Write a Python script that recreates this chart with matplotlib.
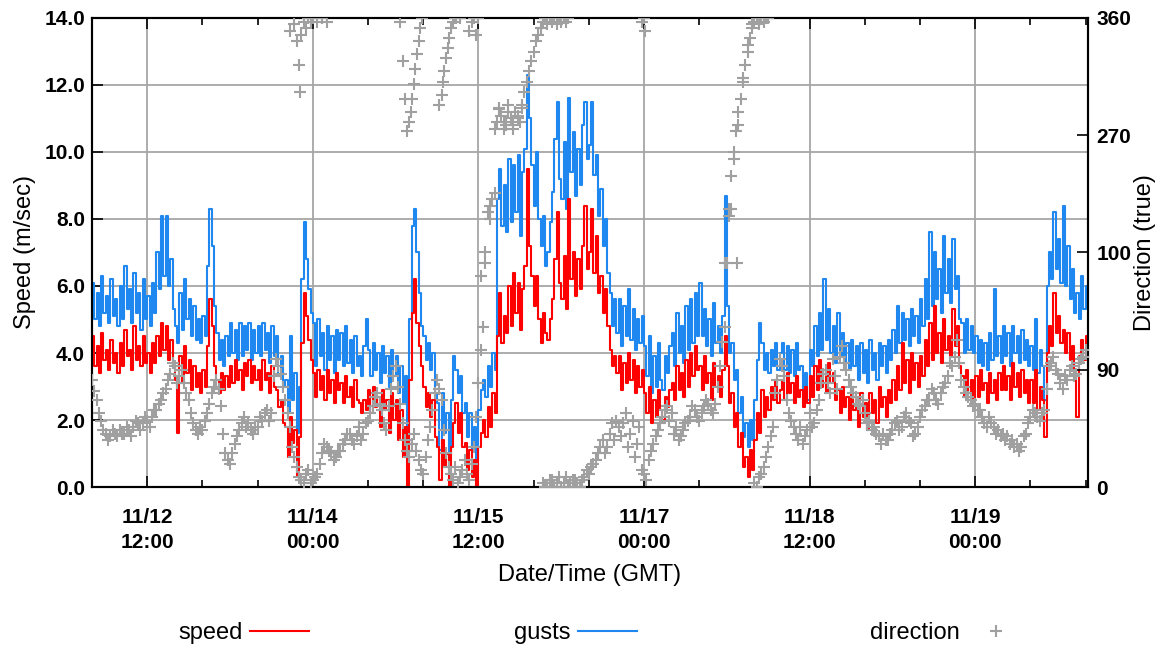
import numpy as np
import matplotlib
matplotlib.use("Agg")
import matplotlib.pyplot as plt
from matplotlib.ticker import MultipleLocator

plt.rcParams['font.family'] = ['Liberation Sans', 'DejaVu Sans']

# ---------------- data ----------------
SAMPLE_HOURS = 0.5  # speed / gust sampling interval (hours from start)

speed = [
    4.5, 3.6, 4.2, 3.4, 4.6, 3.8, 4.1, 3.5, 4.4, 3.7, 4.0, 3.4,
    4.3, 3.6, 4.7, 3.9, 4.1, 3.5, 4.8, 3.8, 4.2, 3.6, 4.5, 3.7,
    4.0, 3.4, 4.3, 3.7, 4.5, 3.9, 4.9, 4.1, 4.8, 3.8, 4.4, 3.6,
    3.2, 1.6, 3.9, 3.1, 4.2, 3.4, 3.8, 2.9, 3.6, 3.0, 3.4, 2.8,
    3.5, 3.0, 4.2, 5.6, 4.8, 3.6, 3.2, 2.8, 3.4, 2.9, 3.3, 3.0,
    3.6, 3.1, 3.8, 3.2, 3.5, 2.9, 3.7, 3.3, 3.8, 3.1, 3.6, 3.2,
    3.5, 2.9, 3.8, 3.2, 3.4, 2.8, 3.6, 3.0, 2.9, 2.4, 2.6, 1.9,
    1.8, 0.9, 2.1, 1.3, 1.7, 0.3, 1.5, 4.3, 5.8, 5.1, 4.4, 3.8,
    3.4, 2.7, 3.5, 2.9, 3.3, 2.6, 3.5, 2.8, 3.2, 2.5, 3.4, 2.9,
    3.1, 2.5, 3.3, 2.7, 3.0, 2.4, 3.2, 2.6, 2.5, 2.2, 2.6, 2.3,
    2.9, 2.2, 3.0, 2.4, 2.7, 1.8, 2.9, 2.3, 2.6, 1.6, 2.8, 2.0,
    2.6, 1.4, 2.3, 0.9, 1.8, 0.0, 3.2, 5.2, 6.2, 4.9, 4.2, 3.6,
    3.0, 2.4, 2.8, 2.1, 2.6, 1.5, 1.2, 0.2, 1.4, 0.6, 1.0, 0.0,
    1.2, 1.9, 2.5, 1.6, 2.2, 1.2, 1.3, 0.5, 1.1, 0.3, 0.8, 0.0,
    1.2, 1.6, 2.0, 1.5, 2.4, 1.8, 2.8, 2.2, 4.5, 5.8, 4.3, 5.1,
    4.6, 6.0, 4.8, 6.4, 5.2, 6.1, 4.7, 5.9, 6.6, 9.5, 7.2, 6.3,
    5.4, 6.3, 5.0, 4.3, 5.2, 4.6, 4.4, 5.0, 5.6, 6.8, 8.2, 6.1,
    5.6, 6.9, 5.3, 8.6, 6.2, 7.0, 5.7, 6.8, 5.9, 7.2, 8.4, 6.5,
    7.0, 8.3, 6.4, 7.5, 5.8, 6.3, 5.2, 5.9, 4.8, 4.1, 3.6, 3.9,
    3.4, 3.9, 2.9, 3.7, 3.1, 4.0, 3.2, 3.8, 2.8, 3.6, 3.0, 3.5,
    2.8, 2.2, 3.0, 1.9, 2.6, 2.1, 2.9, 2.3, 2.0, 2.7, 2.4, 2.9,
    3.1, 2.6, 3.6, 2.9, 3.4, 2.7, 3.8, 3.0, 4.0, 3.3, 4.2, 3.5,
    3.6, 2.9, 3.9, 3.1, 3.4, 2.6, 3.7, 3.0, 3.3, 2.7, 3.5, 4.5,
    3.6, 2.5, 2.8, 1.8, 2.2, 1.2, 1.6, 0.6, 0.9, 0.3, 1.1, 0.5,
    1.4, 2.2, 1.6, 2.9, 2.1, 2.7, 2.3, 3.0, 2.6, 3.2, 2.5, 2.9,
    3.2, 2.6, 3.4, 2.8, 3.1, 2.5, 3.3, 2.7, 2.9, 2.4, 3.0, 2.5,
    3.3, 2.7, 3.6, 2.9, 3.8, 3.0, 3.5, 2.8, 3.7, 3.1, 3.4, 2.6,
    2.9, 2.2, 3.0, 2.4, 2.7, 2.0, 2.9, 2.3, 2.6, 1.8, 2.8, 2.1,
    2.5, 1.7, 2.8, 2.2, 2.6, 1.9, 3.0, 2.4, 2.7, 2.1, 2.9, 2.5,
    3.2, 2.6, 3.6, 2.9, 4.3, 3.1, 3.8, 2.8, 4.0, 3.2, 3.7, 3.0,
    3.9, 3.3, 4.4, 3.6, 4.9, 3.8, 5.4, 4.0, 4.6, 3.7, 5.0, 4.1,
    4.5, 3.9, 5.3, 4.2, 4.8, 3.6, 3.3, 2.7, 3.5, 2.8, 3.2, 2.6,
    3.3, 2.7, 3.5, 2.9, 3.1, 2.5, 3.4, 2.8, 3.2, 2.6, 3.4, 2.9,
    3.6, 2.9, 3.3, 2.6, 3.7, 3.0, 3.4, 2.7, 3.5, 2.8, 3.2, 2.5,
    3.2, 2.5, 3.5, 2.3, 3.0, 2.6, 1.5, 4.0, 4.8, 4.2, 5.8, 4.6,
    5.1, 4.3, 4.7, 4.0, 4.6, 3.8, 4.2, 3.5, 2.1, 3.9, 4.4, 3.8,
    4.5, 4.1,
]

gusts = [
    6.1, 5.0, 5.8, 4.8, 6.3, 5.2, 5.7, 4.9, 6.2, 5.1, 5.6, 4.8,
    6.0, 5.0, 6.6, 5.3, 5.9, 4.9, 6.4, 5.2, 5.8, 4.7, 6.2, 5.0,
    5.7, 4.8, 6.1, 5.2, 7.0, 5.9, 8.1, 6.3, 8.1, 6.0, 6.8, 5.3,
    4.8, 4.3, 5.8, 4.7, 6.2, 5.0, 5.6, 4.5, 5.4, 4.4, 5.0, 4.3,
    5.1, 4.5, 6.6, 8.3, 7.2, 5.4, 4.6, 3.8, 4.4, 3.6, 4.5, 3.9,
    4.9, 4.0, 4.7, 3.8, 4.9, 3.9, 4.8, 4.1, 4.9, 3.8, 4.7, 4.0,
    4.8, 3.9, 4.9, 4.1, 4.6, 3.7, 4.8, 3.9, 4.5, 3.3, 3.9, 3.0,
    3.2, 2.2, 4.5, 2.6, 3.4, 1.6, 3.0, 6.2, 7.9, 6.8, 5.9, 5.2,
    4.9, 3.6, 5.0, 3.9, 4.6, 3.5, 4.8, 3.8, 4.5, 3.4, 4.7, 3.8,
    4.6, 3.6, 4.8, 3.7, 4.4, 3.4, 4.5, 3.6, 3.9, 3.3, 4.2, 5.0,
    4.1, 3.3, 4.3, 3.5, 4.0, 3.1, 4.2, 3.4, 3.9, 3.0, 4.1, 3.3,
    3.9, 2.8, 3.6, 2.5, 3.3, 1.2, 5.0, 7.8, 8.3, 7.0, 5.8, 4.8,
    4.5, 3.8, 4.3, 3.5, 4.0, 2.8, 2.5, 1.1, 2.8, 1.6, 2.2, 1.0,
    2.6, 3.9, 3.5, 2.8, 3.3, 2.2, 2.5, 1.5, 2.2, 1.1, 1.8, 0.8,
    2.3, 2.9, 3.2, 2.7, 3.6, 3.0, 4.0, 3.5, 8.6, 9.5, 7.8, 9.0,
    7.6, 9.8, 7.9, 9.6, 8.2, 9.9, 7.5, 9.4, 10.1, 12.3, 11.0, 9.6,
    8.4, 10.0, 8.0, 7.2, 8.1, 6.6, 7.0, 7.9, 8.8, 10.4, 11.5, 9.2,
    8.6, 10.3, 8.3, 11.6, 9.4, 10.6, 8.7, 10.1, 9.0, 10.8, 11.5, 9.8,
    10.2, 11.5, 9.3, 9.9, 8.1, 8.9, 7.2, 8.0, 6.4, 5.8, 4.8, 5.6,
    4.6, 5.6, 4.2, 5.4, 4.5, 5.9, 4.4, 5.3, 4.1, 5.0, 4.3, 5.1,
    4.2, 3.3, 4.5, 2.8, 3.9, 3.0, 4.3, 3.2, 2.9, 3.9, 3.4, 4.2,
    4.6, 3.6, 5.2, 4.0, 4.8, 3.7, 5.4, 4.1, 5.6, 4.3, 5.8, 4.5,
    6.1, 4.5, 5.3, 4.2, 5.0, 3.9, 5.5, 4.3, 4.8, 4.0, 5.1, 8.7,
    5.4, 4.0, 4.3, 3.2, 3.5, 2.2, 2.7, 1.5, 1.9, 1.2, 2.0, 1.4,
    2.6, 3.8, 4.9, 4.3, 3.5, 4.0, 3.4, 4.1, 3.6, 4.3, 3.5, 4.0,
    4.3, 3.5, 4.2, 3.4, 4.1, 3.3, 4.3, 3.5, 3.6, 2.7, 3.4, 2.6,
    4.1, 3.6, 4.8, 3.9, 5.2, 4.1, 6.2, 4.4, 5.3, 4.0, 4.8, 3.7,
    5.2, 3.9, 4.6, 3.7, 4.3, 3.5, 4.4, 3.6, 4.2, 3.2, 4.3, 3.4,
    4.1, 3.1, 4.4, 3.5, 4.0, 3.2, 4.3, 3.6, 4.2, 3.4, 4.4, 3.8,
    4.7, 4.0, 5.4, 4.3, 5.2, 4.4, 5.0, 4.2, 5.3, 4.5, 5.1, 4.3,
    5.6, 4.8, 6.2, 5.0, 7.6, 5.4, 7.0, 5.6, 6.5, 5.2, 7.5, 5.8,
    6.8, 5.5, 7.4, 5.9, 6.3, 5.0, 4.9, 4.0, 5.0, 4.1, 4.8, 4.0,
    4.5, 3.7, 4.4, 3.6, 4.3, 3.5, 4.6, 3.8, 5.9, 3.9, 4.5, 3.7,
    4.8, 3.9, 4.6, 3.6, 4.8, 4.0, 4.5, 3.7, 4.7, 3.8, 4.4, 3.6,
    4.2, 3.5, 5.0, 3.4, 4.1, 3.6, 2.6, 6.0, 7.0, 6.2, 8.2, 6.5,
    7.4, 6.1, 8.4, 6.0, 7.2, 5.6, 6.5, 5.2, 5.8, 5.0, 6.3, 5.3,
    6.0, 5.4,
]

# wind direction (degrees true) on the hour, hour 0 .. 216
direction = [
    82, 67, 51, 41, 39, 41, 44, 41, 44, 46, 49, 49,
    51, 54, 59, 67, 75, 87, 93, 85, 80, 67, 49, 41,
    44, 57, 72, 82, 62, 26, 18, 33, 44, 54, 49, 41,
    46, 51, 59, 57, 98, 87, 67, 46, 23, 8, 3, 13,
    5, 10, 26, 31, 26, 23, 28, 36, 41, 33, 46, 41,
    51, 62, 72, 59, 44, 75, 93, 64, 36, 23, 41, 21,
    10, 36, 59, 82, 67, 26, 10, 15, 8, 21, 5, 31,
    80, 123, 211, 221, 280, 285, 278, 283, 288, 280, 303, 319,
    334, 347, 3, 0, 5, 3, 0, 8, 3, 5, 0, 8,
    10, 18, 26, 36, 31, 49, 51, 39, 57, 41, 23, 46,
    10, 21, 33, 44, 54, 62, 57, 46, 39, 49, 54, 59,
    51, 62, 64, 57, 77, 111, 172, 239, 273, 298, 324, 345,
    3, 8, 15, 31, 46, 82, 93, 67, 51, 41, 46, 39,
    57, 49, 67, 87, 80, 98, 75, 108, 90, 77, 69, 62,
    57, 51, 46, 39, 41, 36, 44, 51, 46, 57, 49, 41,
    54, 62, 67, 72, 64, 77, 85, 93, 113, 82, 72, 67,
    64, 59, 49, 54, 46, 44, 41, 39, 36, 33, 31, 41,
    54, 57, 51, 59, 93, 100, 87, 75, 82, 93, 87, 98,
    105,
]

# wind direction (degrees true) on the half hour, hour 0.5 .. 215.5
direction_half = [
    74, 57, 44, 36, 44, 39, 41, 46, 39, 51, 44, 54,
    46, 59, 64, 72, 82, 95, 80, 90, 72, 57, 44, 46,
    51, 64, 77, 75, 41, 21, 26, 39, 49, 46, 44, 46,
    54, 57, 51, 85, 93, 77, 57, 31, 15, 5, 10, 3,
    8, 18, 33, 28, 21, 28, 33, 41, 36, 39, 36, 49,
    57, 69, 64, 49, 62, 85, 77, 49, 28, 33, 28, 13,
    23, 46, 72, 75, 44, 15, 5, 3, 13, 10, 18, 54,
    105, 172, 216, 275, 290, 280, 288, 275, 283, 293, 311, 327,
    342, 352, 0, 5, 0, 8, 3, 0, 5, 3, 5, 13,
    15, 21, 31, 26, 41, 36, 46, 49, 31, 51, 33, 13,
    5, 28, 39, 49, 59, 51, 41, 36, 44, 51, 62, 54,
    57, 67, 59, 64, 93, 123, 208, 257, 288, 311, 334, 355,
    0, 10, 23, 39, 72, 98, 85, 57, 46, 36, 33, 44,
    46, 59, 80, 90, 72, 85, 100, 95, 82, 72, 64, 67,
    49, 44, 41, 33, 36, 41, 49, 44, 54, 51, 39, 46,
    59, 67, 75, 67, 72, 80, 95, 100, 95, 77, 69, 62,
    59, 54, 46, 49, 41, 39, 36, 33, 31, 28, 39, 49,
    59, 54, 57, 75, 95, 90, 80, 85, 90, 85, 95, 100,
]

# additional direction readings (near-north wrap-around and veering periods)
extra_dir_hours = [
    43, 44, 44.5, 45, 45.2, 45.5, 46, 46.5, 47, 47.5, 48, 49, 50, 51,
    67.0, 67.5, 68.0, 68.5, 69.0, 69.3, 69.6, 70.0, 70.3, 70.6, 71.0, 71.4, 71.8,
    75.5, 76.0, 76.3, 76.6, 77.0, 77.3, 77.7, 78.0, 78.4, 78.8, 79.2, 80,
    82.0, 82.5, 83.0, 83.5, 84.0,
    84.5, 85.5, 86.5, 87.5, 88.5, 89.5, 90.5, 91.5, 92.5, 93.5,
    97.5, 98, 98.5, 99, 99.5, 100, 100.5, 101, 101.5, 102, 102.5, 103, 103.5,
    119.5, 120, 120.3,
    137.5, 138.5, 139, 139.5, 140.2, 140.5, 141.5, 142.5, 143.5, 144, 144.5,
    145, 145.5, 146, 146.5, 147,
]
extra_dir_deg = [
    350, 355, 342, 324, 303, 347, 357, 352, 360, 357, 360, 357, 360, 357,
    357, 327, 298, 273, 280, 288, 298, 309, 321, 332, 342, 352, 360,
    293, 301, 311, 319, 329, 337, 345, 352, 357, 360, 360, 360,
    350, 357, 360, 347, 360,
    162, 180, 206, 226, 291, 275, 293, 278, 285, 291,
    352, 357, 360, 355, 360, 357, 360, 355, 360, 357, 360, 357, 360,
    357, 360, 350,
    172, 213, 213, 252, 172, 278, 314, 339, 352, 357, 360,
    355, 360, 357, 360, 360,
]

x_tick_hours = [12, 48, 84, 120, 156, 192]
x_tick_labels = ['11/12\n12:00', '11/14\n00:00', '11/15\n12:00',
                 '11/17\n00:00', '11/18\n12:00', '11/19\n00:00']
speed_ticks = [0, 2, 4, 6, 8, 10, 12, 14]
dir_ticks = [0, 90, 180, 270, 360]
dir_tick_labels = ['0', '90', '100', '270', '360']

# ---------------- styling ----------------
RED = '#FF0000'
BLUE = '#1E88F0'
GRAY = '#A0A0A0'
GRID = '#A6A6A6'
MK = dict(ls='none', marker='+', ms=8, mew=1.5, color=GRAY, zorder=4)

fig = plt.figure(figsize=(11.66, 6.49), dpi=100)
ax = fig.add_axes([0.0789, 0.2496, 0.8542, 0.7227])

t = np.arange(len(speed)) * SAMPLE_HOURS
l_g, = ax.plot(t, gusts, color=BLUE, lw=1.5, drawstyle='steps-post', zorder=2)
l_s, = ax.plot(t, speed, color=RED, lw=1.5, drawstyle='steps-post', zorder=3)

ax.set_xlim(0, 216.5)
ax.set_ylim(0, 14)
ax.set_yticks(speed_ticks)
ax.set_yticklabels(['%.1f' % v for v in speed_ticks])
ax.set_xticks(x_tick_hours)
ax.set_xticklabels(x_tick_labels)
ax.xaxis.set_minor_locator(MultipleLocator(12))
ax.tick_params(axis='both', which='major', direction='in', length=8, width=1.2,
               labelsize=15, top=True, right=False)
ax.tick_params(axis='x', which='minor', direction='in', length=5, width=1.2, top=True)
ax.tick_params(axis='y', which='major', pad=5)
ax.tick_params(axis='x', which='major', pad=15)
for lbl in ax.get_xticklabels() + ax.get_yticklabels():
    lbl.set_fontweight('bold')
for lbl in ax.get_xticklabels():
    lbl.set_linespacing(1.4)
ax.grid(True, which='major', color=GRID, lw=1.3)
ax.set_axisbelow(True)
for sp in ax.spines.values():
    sp.set_linewidth(1.5)

ax.set_xlabel('Date/Time (GMT)', fontsize=17, labelpad=9)
ax.set_ylabel('Speed (m/sec)', fontsize=17, labelpad=6)

ax2 = ax.twinx()
ax2.set_ylim(0, 360)
ax2.set_yticks(dir_ticks)
ax2.set_yticklabels(dir_tick_labels)
ax2.tick_params(axis='y', direction='in', length=8, width=1.2, labelsize=15, pad=6)
for lbl in ax2.get_yticklabels():
    lbl.set_fontweight('bold')
l_d, = ax2.plot(np.arange(len(direction)), direction, **MK)
ax2.plot(np.arange(len(direction_half)) + 0.5, direction_half, **MK)
ax2.plot(extra_dir_hours, extra_dir_deg, **MK)
ax2.set_ylabel('Direction (true)', fontsize=17, labelpad=2)
for sp in ax2.spines.values():
    sp.set_linewidth(1.5)

# legend: label text followed by its sample, three entries spread across the bottom
for handle, label, xpos in [(l_s, 'speed', 0.1527), (l_g, 'gusts', 0.4408),
                            (l_d, 'direction', 0.7461)]:
    fig.legend([handle], [label], loc='center left', bbox_to_anchor=(xpos, 0.025),
               markerfirst=False, frameon=False, borderpad=0, borderaxespad=0,
               handlelength=2.5, handletextpad=0.3, fontsize=17, numpoints=1)

fig.savefig('out.png', dpi=100)
